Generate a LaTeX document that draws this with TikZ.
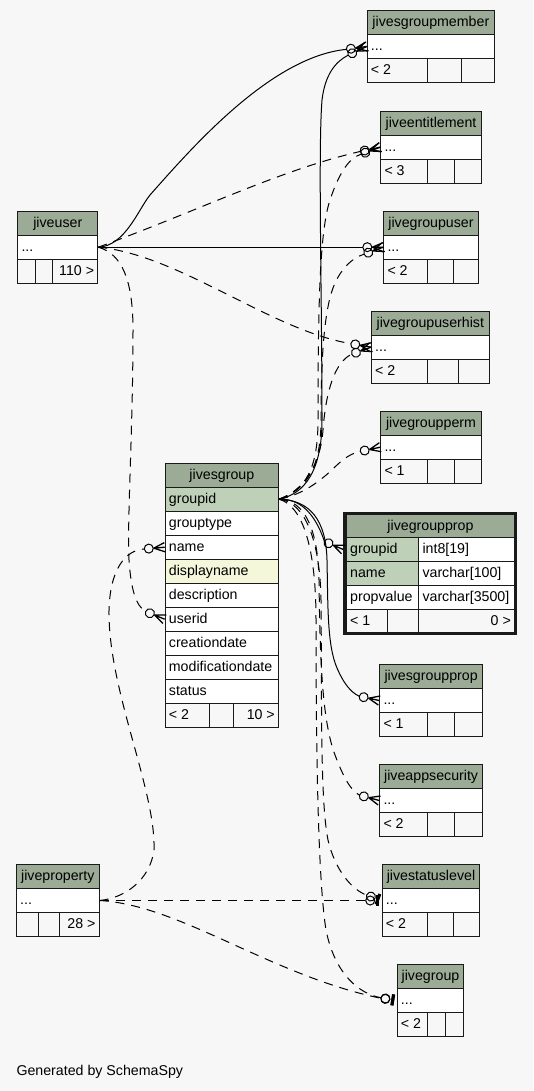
\documentclass[tikz,border=0pt]{standalone}
\usepackage{fontspec}
\setmainfont{Liberation Sans}
\newcommand{\tblfont}{\fontsize{14.2pt}{17pt}\selectfont}
\definecolor{bg}{HTML}{F7F7F7}
\definecolor{hdr}{HTML}{9BAB96}
\definecolor{pk}{HTML}{BED1B8}
\definecolor{idx}{HTML}{F4F7DA}
\definecolor{bd}{HTML}{1A1A1A}
\tikzset{
  cell/.style={draw=bd, line width=1pt, minimum height=24pt, inner sep=0pt, anchor=north west},
  txt/.style={font=\tblfont, inner sep=0pt, text height=11pt, text depth=3pt},
  fk/.style={draw=black, line width=1pt},
  imp/.style={fk, dash pattern=on 9pt off 7pt},
  crowodot/.pic={
    \draw[line width=1.3pt] (-11,0) -- (0,4.6) (-11,0) -- (0,0) (-11,0) -- (0,-4.6);
    \draw[line width=1pt] (-16,0) circle[radius=4.5];
  },
  teeodot/.pic={
    \fill[black] (-5.5,-5.5) rectangle (-2.5,5.5);
    \draw[line width=1pt] (-11.5,0) circle[radius=4.5];
  }
}
% name, left, right, top, title, div1, div2, left text, right text
\newcommand{\simpletbl}[9]{%
  \node[cell, fill=hdr, minimum width={#3pt-#2pt}] (#1-h) at (#2,#4) {};
  \node[txt] (#1-ht) at (#1-h.center) {#5};
  \node[cell, fill=white, minimum width={#3pt-#2pt}] (#1) at (#2,{#4+24}) {};
  \node[txt, anchor=west] (#1-t) at ([xshift=4pt]#1.west) {...};
  \node[cell, fill=bg, minimum width={#6pt-#2pt}] (#1-f1) at (#2,{#4+48}) {};
  \node[cell, fill=bg, minimum width={#7pt-#6pt}] (#1-f2) at (#6,{#4+48}) {};
  \node[cell, fill=bg, minimum width={#3pt-#7pt}] (#1-f3) at (#7,{#4+48}) {};
  \node[txt, anchor=west] (#1-lt) at ([xshift=4pt]#1-f1.west) {#8};
  \node[txt, anchor=east] (#1-rt) at ([xshift=-4pt]#1-f3.east) {#9};
}
% name, left, right, top, fill, text
\newcommand{\frow}[6]{%
  \node[cell, fill=#5, minimum width={#3pt-#2pt}] (#1) at (#2,#4) {};
  \node[txt, anchor=west] (#1-t) at ([xshift=4pt]#1.west) {#6};
}
\begin{document}
\begin{tikzpicture}[x=1pt,y=-1pt]
\fill[bg] (0,0) rectangle (533,1091);
\useasboundingbox (0,0) rectangle (533,1091);

% ---------- simple tables ----------
\simpletbl{jsgm}{366.7}{494}{10}{jivesgroupmember}{427}{460.7}{< 2}{}
\simpletbl{jent}{380.3}{480.7}{110.7}{jiveentitlement}{427}{453.7}{< 3}{}
\simpletbl{jgu}{383.3}{477.7}{210.7}{jivegroupuser}{427}{452.7}{< 2}{}
\simpletbl{jguh}{371}{488.7}{310.7}{jivegroupuserhist}{427}{457.7}{< 2}{}
\simpletbl{jgperm}{380.3}{480.7}{410.7}{jivegroupperm}{427}{453.7}{< 1}{}
\simpletbl{jsgp}{379.3}{482}{664}{jivesgroupprop}{427.3}{453.7}{< 1}{}
\simpletbl{jas}{379.3}{482}{764}{jiveappsecurity}{427.3}{453.7}{< 2}{}
\simpletbl{jsl}{381.7}{479.3}{864}{jivestatuslevel}{427}{452.7}{< 2}{}
\simpletbl{jg}{396.7}{463.3}{964}{jivegroup}{427}{444.7}{< 2}{}
\simpletbl{ju}{17.3}{97.3}{210.7}{jiveuser}{34.7}{52}{}{110 >}
\simpletbl{jp}{16}{98.6}{864}{jiveproperty}{38.4}{58.8}{}{28 >}

% ---------- jivesgroup ----------
\node[cell, fill=hdr, minimum width={278pt-164.7pt}] (jsg-h) at (164.7,462.7) {};
\node[txt] (jsg-ht) at (jsg-h.center) {jivesgroup};
\frow{jsg-gid}{164.7}{278}{486.7}{pk}{groupid}
\frow{jsg-gt}{164.7}{278}{510.7}{white}{grouptype}
\frow{jsg-name}{164.7}{278}{534.7}{white}{name}
\frow{jsg-dn}{164.7}{278}{558.7}{idx}{displayname}
\frow{jsg-desc}{164.7}{278}{582.7}{white}{description}
\frow{jsg-uid}{164.7}{278}{606.7}{white}{userid}
\frow{jsg-cd}{164.7}{278}{630.7}{white}{creationdate}
\frow{jsg-md}{164.7}{278}{654.7}{white}{modificationdate}
\frow{jsg-st}{164.7}{278}{678.7}{white}{status}
\frow{jsg-f1}{164.7}{208.7}{702.7}{bg}{< 2}
\frow{jsg-f2}{208.7}{232.7}{702.7}{bg}{}
\node[cell, fill=bg, minimum width={278pt-232.7pt}] (jsg-f3) at (232.7,702.7) {};
\node[txt, anchor=east] (jsg-f3t) at ([xshift=-4pt]jsg-f3.east) {10 >};

% ---------- jivegroupprop ----------
\node[cell, fill=hdr, minimum width={514pt-346pt}, minimum height=23pt] (jgp-h) at (346,514) {};
\node[txt] (jgp-ht) at (jgp-h.center) {jivegroupprop};
\frow{jgp-gid}{346}{418.3}{537}{pk}{groupid}
\frow{jgp-gidt}{418.3}{514}{537}{white}{int8[19]}
\frow{jgp-nm}{346}{418.3}{561}{pk}{name}
\frow{jgp-nmt}{418.3}{514}{561}{white}{varchar[100]}
\frow{jgp-pv}{346}{418.3}{585}{white}{propvalue}
\frow{jgp-pvt}{418.3}{514}{585}{white}{varchar[3500]}
\frow{jgp-f1}{346}{387.3}{609}{bg}{< 1}
\frow{jgp-f2}{387.3}{418.3}{609}{bg}{}
\node[cell, fill=bg, minimum width={514pt-418.3pt}] (jgp-f3) at (418.3,609) {};
\node[txt, anchor=east] (jgp-f3t) at ([xshift=-4pt]jgp-f3.east) {0 >};
\draw[draw=bd, line width=3pt] (344.8,513.2) rectangle (515.2,633.5);

% ---------- edge end points ----------
\coordinate (ea) at ([shift={(188:20.5pt)}]jsgm.west);
\coordinate (ef) at ([shift={(205:20.5pt)}]jsgm.west);
\coordinate (eb) at ([shift={(192:20.5pt)}]jent.west);
\coordinate (eg) at ([shift={(200:20.5pt)}]jent.west);
\coordinate (ec) at ([shift={(180:20.5pt)}]jgu.west);
\coordinate (eh) at ([shift={(200:20.5pt)}]jgu.west);
\coordinate (ed) at ([shift={(170:20.5pt)}]jguh.west);
\coordinate (ei) at ([shift={(200:20.5pt)}]jguh.west);
\coordinate (ej) at ([shift={(192:20.5pt)}]jgperm.west);
\coordinate (jgpin) at ([xshift=-2.7pt]jgp-gid.west);
\coordinate (ek) at ([shift={(157:20.5pt)}]jgpin);
\coordinate (el) at ([shift={(168:20.5pt)}]jsgp.west);
\coordinate (em) at ([shift={(165:20.5pt)}]jas.west);
\coordinate (en) at ([shift={(160:16pt)}]jsl.west);
\coordinate (eq) at ([shift={(180:16pt)}]jsl.west);
\coordinate (eo) at ([shift={(170:16pt)}]jg.west);
\coordinate (er) at ([shift={(172:16pt)}]jg.west);
\coordinate (ee) at ([shift={(158:20.5pt)}]jsg-uid.west);
\coordinate (ep) at ([shift={(185:20.5pt)}]jsg-name.west);

% ---------- connectors from jiveuser ----------
\draw[fk] (ju.east) .. controls (125,246) and (138,210) .. (150,195)
  .. controls (190,150) and (270,57) .. (ea);
\draw[imp] (ju.east) .. controls (200,210) and (280,170) .. (eb);
\draw[fk] (ju.east) -- (ec);
\draw[imp] (ju.east) .. controls (180,255) and (270,330) .. (ed);
\draw[imp] (ju.east) .. controls (122,254) and (133,280) .. (133,330)
  .. controls (133,430) and (127,520) .. (129,560)
  .. controls (131,590) and (136,606) .. (ee);

% ---------- connectors from jivesgroup ----------
\draw[fk] (jsg-gid.east) .. controls (305,494) and (322,470) .. (322,420)
  .. controls (322,300) and (318,150) .. (322,100)
  .. controls (325,75) and (335,62) .. (ef);
\draw[imp] (jsg-gid.east) .. controls (305,490) and (318,470) .. (318,420)
  .. controls (318,300) and (320,230) .. (330,200)
  .. controls (338,176) and (348,158) .. (eg);
\draw[imp] (jsg-gid.east) .. controls (305,490) and (321,470) .. (321,420)
  .. controls (321,350) and (325,305) .. (335,283)
  .. controls (342,268) and (352,258) .. (eh);
\draw[imp] (jsg-gid.east) .. controls (300,492) and (320,470) .. (323,430)
  .. controls (326,390) and (335,362) .. (ei);
\draw[imp] (jsg-gid.east) .. controls (300,495) and (315,485) .. (330,471.7)
  .. controls (340,462) and (348,454) .. (ej);
\draw[fk] (jsg-gid.east) .. controls (305,498) and (318,522) .. (ek);
\draw[fk] (jsg-gid.east) .. controls (310,500) and (326,520) .. (327,560)
  .. controls (328,605) and (327,645) .. (337,668)
  .. controls (343,682) and (350,692) .. (el);
\draw[imp] (jsg-gid.east) .. controls (305,500) and (318,530) .. (319,580)
  .. controls (320,660) and (322,720) .. (335,755)
  .. controls (343,776) and (350,790) .. (em);
\draw[imp] (jsg-gid.east) .. controls (305,502) and (320,540) .. (321,600)
  .. controls (322,700) and (320,800) .. (328,840)
  .. controls (335,870) and (352,890) .. (en);
\draw[imp] (jsg-gid.east) .. controls (300,505) and (316,540) .. (316,620)
  .. controls (316,750) and (318,880) .. (326,930)
  .. controls (335,975) and (360,994) .. (eo);

% ---------- connectors from jiveproperty ----------
\draw[imp] (jp.east) .. controls (125,898) and (150,880) .. (154,850)
  .. controls (156,790) and (108,690) .. (109,610)
  .. controls (110,570) and (125,550) .. (ep);
\draw[imp] (jp.east) -- (eq);
\draw[imp] (jp.east) .. controls (180,905) and (270,975) .. (er);

% ---------- arrow heads ----------
\path (jsgm.west) pic[rotate=8] {crowodot};
\path (jsgm.west) pic[rotate=25] {crowodot};
\path (jent.west) pic[rotate=12] {crowodot};
\path (jent.west) pic[rotate=20] {crowodot};
\path (jgu.west) pic {crowodot};
\path (jgu.west) pic[rotate=20] {crowodot};
\path (jguh.west) pic[rotate=-10] {crowodot};
\path (jguh.west) pic[rotate=20] {crowodot};
\path (jgperm.west) pic[rotate=12] {crowodot};
\path (jgpin) pic[rotate=-23] {crowodot};
\path (jsgp.west) pic[rotate=-12] {crowodot};
\path (jas.west) pic[rotate=-15] {crowodot};
\path (jsl.west) pic[rotate=-20] {teeodot};
\path (jsl.west) pic {teeodot};
\path (jg.west) pic[rotate=-10] {teeodot};
\path (jg.west) pic[rotate=-8] {teeodot};
\path (jsg-uid.west) pic[rotate=-22] {crowodot};
\path (jsg-name.west) pic[rotate=5] {crowodot};

\node[txt, anchor=west] (gen) at (16.3,1071) {Generated by SchemaSpy};
\end{tikzpicture}
\end{document}
